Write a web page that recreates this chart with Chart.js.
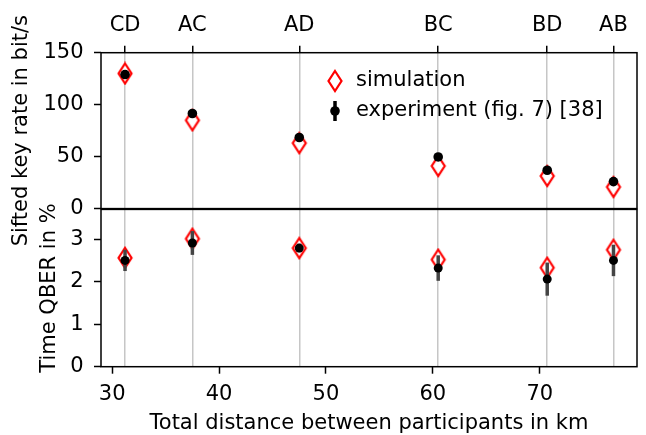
<!DOCTYPE html>
<html>
<head>
<meta charset="utf-8">
<script src="https://cdn.jsdelivr.net/npm/chart.js@4.4.0/dist/chart.umd.min.js"></script>
<style>
    body { margin: 0; background: #fff; overflow: hidden; }
    #wrap { position: relative; width: 646px; height: 435px; overflow: hidden; }
    canvas { position: absolute; left: 0; }
    #rateChart { top: 0; }
    #qberChart { top: 190px; }
</style>
</head>
<body>
<div id="wrap">
    <canvas id="rateChart" width="646" height="260"></canvas>
    <canvas id="qberChart" width="646" height="248"></canvas>
</div>
<script>
// participant pairs and total distance (km)
const pairNames = ['CD', 'AC', 'AD', 'BC', 'BD', 'AB'];
const distances = [31.2, 37.5, 47.5, 60.5, 70.7, 76.9];

// sifted key rate (bit/s)
const simRate = [130, 85, 63, 41, 31.4, 20.8];
const expRate = [129, 91.5, 68.4, 49.7, 36.9, 26];

// time QBER (%)
const simQber = [2.56, 3.01, 2.79, 2.52, 2.33, 2.75];
const expQber = [2.5, 2.91, 2.79, 2.32, 2.06, 2.5];
const expQberErr = [0.25, 0.28, 0.1, 0.3, 0.39, 0.37];

// tick labels
const rateTicks = [0, 50, 100, 150];
const qberTicks = [0, 1, 2, 3];
const distTicks = [30, 40, 50, 60, 70];

const X_MIN = 28.95, X_MAX = 79.1;
const GRID_GRAY = '#c6c6c6';
const BAR_GRAY = '#444';
const FONT = 21;

Chart.defaults.font.family = "'DejaVu Sans', sans-serif";
Chart.defaults.font.size = FONT;
Chart.defaults.color = '#000';

// thin red diamond used as point style
function makeDiamond() {
    const c = document.createElement('canvas');
    c.width = 18;
    c.height = 24;
    const g = c.getContext('2d');
    g.beginPath();
    g.moveTo(9, 2);
    g.lineTo(15.5, 12);
    g.lineTo(9, 22);
    g.lineTo(2.5, 12);
    g.closePath();
    g.fillStyle = '#fff';
    g.fill();
    g.strokeStyle = '#ff0000';
    g.lineWidth = 2.2;
    g.stroke();
    return c;
}
const diamond = makeDiamond();

const toPoints = (ys) => distances.map((x, i) => ({ x: x, y: ys[i] }));

// black frame around the plot area
const framePlugin = {
    id: 'frame',
    afterDatasetsDraw(chart) {
        const { ctx, chartArea: a } = chart;
        ctx.save();
        ctx.strokeStyle = '#000';
        ctx.lineWidth = 1.5;
        ctx.strokeRect(a.left, a.top, a.right - a.left, a.bottom - a.top);
        ctx.restore();
    }
};

// vertical error bars, drawn just before the experiment dots
const errorBarPlugin = {
    id: 'errorBars',
    beforeDatasetDraw(chart, args) {
        if (args.index !== 0) return;
        const ds = chart.data.datasets[0];
        if (!ds.errors) return;
        const { ctx, scales } = chart;
        ctx.save();
        ctx.strokeStyle = BAR_GRAY;
        ctx.lineWidth = 3.5;
        ds.data.forEach((p, i) => {
            const x = scales.x.getPixelForValue(p.x);
            ctx.beginPath();
            ctx.moveTo(x, scales.y.getPixelForValue(p.y - ds.errors[i]));
            ctx.lineTo(x, scales.y.getPixelForValue(p.y + ds.errors[i]));
            ctx.stroke();
        });
        ctx.restore();
    }
};

// legend inside the upper panel
const legendPlugin = {
    id: 'insideLegend',
    afterDraw(chart) {
        const ctx = chart.ctx;
        const mx = 335, tx = 356, y1 = 81, y2 = 111;
        ctx.save();
        ctx.drawImage(diamond, mx - 9, y1 - 12);
        ctx.strokeStyle = '#000';
        ctx.lineWidth = 3.5;
        ctx.beginPath();
        ctx.moveTo(mx, y2 - 10);
        ctx.lineTo(mx, y2 + 10);
        ctx.stroke();
        ctx.fillStyle = '#000';
        ctx.beginPath();
        ctx.arc(mx, y2, 4.8, 0, Math.PI * 2);
        ctx.fill();
        ctx.font = FONT + "px 'DejaVu Sans'";
        ctx.textBaseline = 'middle';
        ctx.fillText('simulation', tx, y1);
        ctx.fillText('experiment (fig. 7) [38]', tx, y2);
        ctx.restore();
    }
};

function pairLinesAxis(showLabels) {
    return {
        type: 'linear',
        position: 'top',
        min: X_MIN,
        max: X_MAX,
        afterBuildTicks: (s) => { s.ticks = distances.map(v => ({ value: v })); },
        afterFit: (s) => {
            s.height = showLabels ? 52.7 : 0;
            s.paddingLeft = 0;
            s.paddingRight = 0;
        },
        ticks: {
            display: showLabels,
            autoSkip: false,
            maxRotation: 0,
            padding: 8,
            callback: (v, i) => pairNames[i]
        },
        grid: {
            color: GRID_GRAY,
            lineWidth: 1.5,
            drawTicks: showLabels,
            tickColor: '#000',
            tickWidth: 1.5,
            tickLength: 7
        },
        border: { display: false }
    };
}

function valueAxis(min, max, ticks, width, title) {
    return {
        min: min,
        max: max,
        afterBuildTicks: (s) => { s.ticks = ticks.map(v => ({ value: v })); },
        afterFit: (s) => {
            s.width = width;
            s.paddingTop = 0;
            s.paddingBottom = 0;
        },
        ticks: { padding: 10.5 },
        grid: { drawOnChartArea: false, tickColor: '#000', tickWidth: 1.5, tickLength: 7 },
        border: { display: false },
        title: { display: true, text: title, padding: { top: 0, bottom: 0 } }
    };
}

// upper panel: sifted key rate
new Chart(document.getElementById('rateChart'), {
    type: 'scatter',
    data: {
        datasets: [{
            label: 'experiment (fig. 7) [38]',
            data: toPoints(expRate),
            pointStyle: 'circle',
            pointRadius: 4.8,
            backgroundColor: '#000',
            borderWidth: 0,
            clip: false
        }, {
            label: 'simulation',
            data: toPoints(simRate),
            pointStyle: diamond,
            pointRadius: 8,
            clip: false
        }]
    },
    options: {
        responsive: false,
        animation: false,
        events: [],
        layout: { padding: { left: 9.4, right: 4.3, top: 0, bottom: 51.4 } },
        plugins: { legend: { display: false }, tooltip: { enabled: false } },
        scales: {
            x: { type: 'linear', min: X_MIN, max: X_MAX, display: false },
            x2: pairLinesAxis(true),
            y: valueAxis(0, 150, rateTicks, 91.6, 'Sifted key rate in bit/s')
        }
    },
    plugins: [framePlugin, legendPlugin]
});

// lower panel: time QBER
new Chart(document.getElementById('qberChart'), {
    type: 'scatter',
    data: {
        datasets: [{
            label: 'experiment (fig. 7) [38]',
            data: toPoints(expQber),
            errors: expQberErr,
            pointStyle: 'circle',
            pointRadius: 4.5,
            backgroundColor: '#000',
            borderWidth: 0,
            clip: false
        }, {
            label: 'simulation',
            data: toPoints(simQber),
            pointStyle: diamond,
            pointRadius: 8,
            clip: false
        }]
    },
    options: {
        responsive: false,
        animation: false,
        events: [],
        layout: { padding: { left: 37.4, right: 4.3, top: 19.4, bottom: 0 } },
        plugins: { legend: { display: false }, tooltip: { enabled: false } },
        scales: {
            x: {
                type: 'linear',
                position: 'bottom',
                min: X_MIN,
                max: X_MAX,
                afterBuildTicks: (s) => { s.ticks = distTicks.map(v => ({ value: v })); },
                afterFit: (s) => {
                    s.height = 71.3;
                    s.paddingLeft = 0;
                    s.paddingRight = 0;
                },
                ticks: { padding: 8, maxRotation: 0 },
                grid: { drawOnChartArea: false, tickColor: '#000', tickWidth: 1.5, tickLength: 7 },
                border: { display: false },
                title: { display: true, text: 'Total distance between participants in km', padding: { top: 0, bottom: 2 } }
            },
            x2: pairLinesAxis(false),
            y: valueAxis(0, 3.7, qberTicks, 63.6, 'Time QBER in %')
        }
    },
    plugins: [framePlugin, errorBarPlugin]
});
</script>
</body>
</html>
